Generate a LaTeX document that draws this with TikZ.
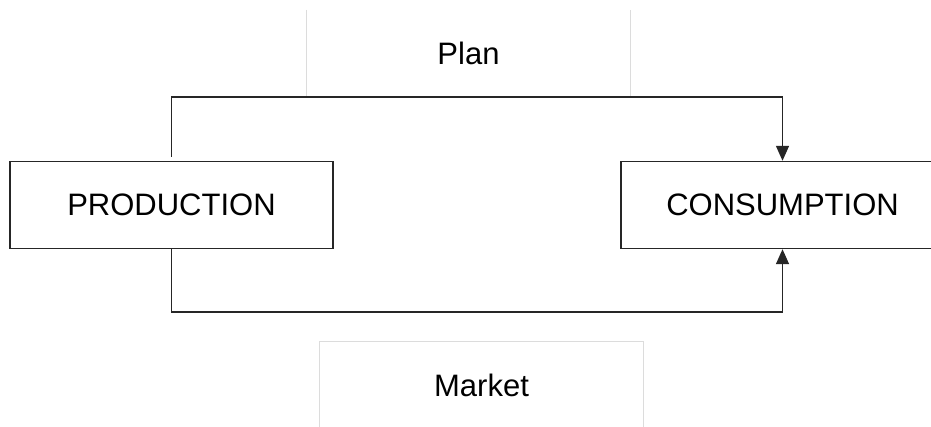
\documentclass[tikz,border=0pt]{standalone}
\usepackage{fontspec}
\setmainfont{Liberation Sans}
\usetikzlibrary{arrows.meta,positioning}
\definecolor{Ink}{HTML}{262626}
\definecolor{Faint}{HTML}{DCDCDC}

\begin{document}
\begin{tikzpicture}[x=1pt,y=1pt,
  stage/.style={draw=Ink,line width=1.4pt,minimum width=323pt,minimum height=87pt,inner sep=0pt,font=\fontsize{31}{36}\selectfont},
  label/.style={minimum width=323pt,minimum height=87pt,inner sep=0pt,font=\fontsize{31}{36}\selectfont},
  frame/.style={draw=Faint,line width=1.2pt},
  link/.style={-{Triangle[length=15pt,width=13pt]},line width=1.4pt,draw=Ink}
]
\clip (0,0) rectangle (931,427);
\fill[white] (0,0) rectangle (931,427);
\node[label] (plan) at (468.5,373.5) {Plan};
\node[label] (market) at (481.5,41.5) {Market};
\node[stage] (prod) at (171.5,222) {PRODUCTION};
\node[stage] (cons) at (782.5,222) {CONSUMPTION};
\coordinate (low) at (782.5,115);
\draw[frame] (plan.north west) -- (plan.south west) -- (plan.south east) -- (plan.north east);
\draw[frame] (market.south west) -- (market.north west) -- (market.north east) -- (market.south east);
\draw[link] ([yshift=4pt]prod.north) |- (plan.south) -| (cons.north);
\draw[link] (prod.south) |- (low) -- (cons.south);
\end{tikzpicture}
\end{document}
